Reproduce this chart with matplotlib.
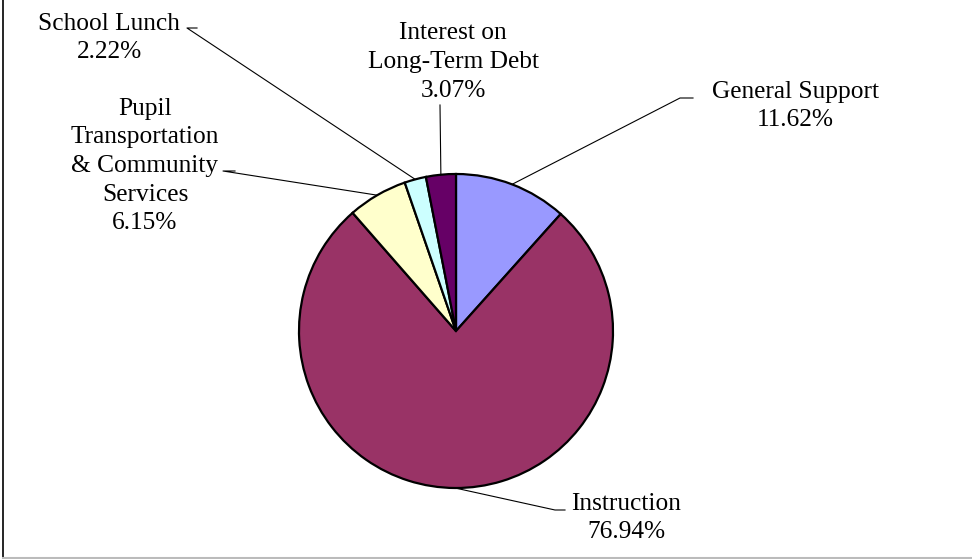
import matplotlib.pyplot as plt
import numpy as np

W, H = 972, 559

labels = ['General Support', 'Instruction', 'Pupil\nTransportation\n& Community\nServices',
          'School Lunch', 'Interest on\nLong-Term Debt']
shares = [11.62, 76.94, 6.15, 2.22, 3.07]
colors = ['#9999FF', '#993366', '#FFFFCC', '#CCFFFF', '#660066']

# label block centres and leader elbows, in pixels from top-left
text_xy = [(795, 106), (626, 518), (145, 166), (109, 38), (453, 62)]
elbows = [((693, 98), (680, 98)),
          ((565, 510), (555, 510)),
          ((235, 171), (223, 171)),
          ((197, 28), (187, 28)),
          ((440, 105), (440, 105))]

cx, cy, r = 456, 331, 157

fig = plt.figure(figsize=(W / 100, H / 100), dpi=100)
ax = fig.add_axes([0, 0, 1, 1])

wedges, _ = ax.pie(shares, colors=colors, startangle=90, counterclock=False,
                   center=(cx, H - cy), radius=r,
                   wedgeprops=dict(edgecolor='black', linewidth=1.6))

for w, lab, val, (tx, ty), (e1, e2) in zip(wedges, labels, shares, text_xy, elbows):
    ang = np.deg2rad((w.theta1 + w.theta2) / 2)
    px = cx + r * np.cos(ang)
    py = (H - cy) + r * np.sin(ang)
    ax.plot([px, e2[0], e1[0]], [py, H - e2[1], H - e1[1]], color='black', lw=0.8)
    ax.text(tx, H - ty, lab + '\n' + '%.2f%%' % val, ha='center', va='center',
            multialignment='center', fontsize=18.3, family='Liberation Serif',
            linespacing=1.39)

# frame edges
ax.plot([3, 3], [H - 558, H], color='black', lw=1.2)
ax.plot([3, W], [H - 557.5, H - 557.5], color='#BBBBBB', lw=1.5)

ax.set_xlim(0, W)
ax.set_ylim(0, H)
ax.set_aspect('auto')
ax.axis('off')

fig.savefig('out.png', dpi=100)
